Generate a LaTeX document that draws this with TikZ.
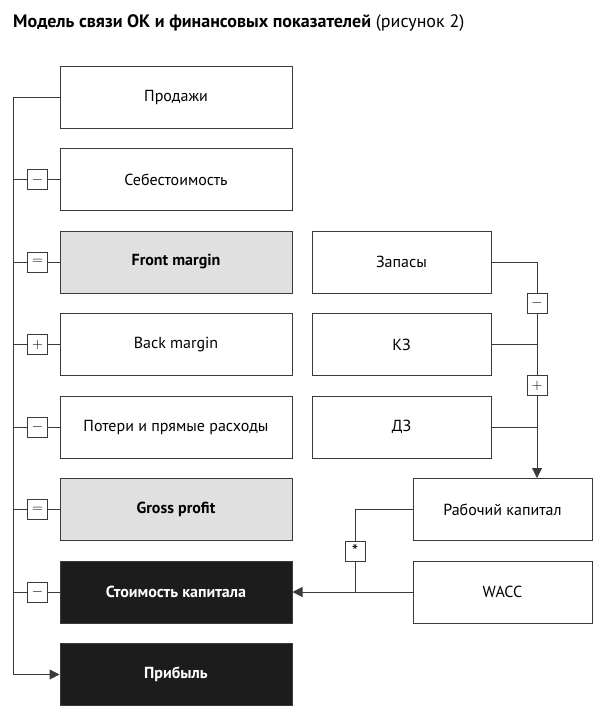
\documentclass[tikz,border=0pt]{standalone}
\usepackage{fontspec}
\setmainfont{PT Sans}
\usetikzlibrary{arrows.meta}
\definecolor{linegray}{HTML}{3A3A3A}
\definecolor{boxgray}{HTML}{E0E0E0}
\definecolor{boxblack}{HTML}{1C1C1C}
\tikzset{
  item/.style={draw=linegray, line width=1pt, minimum width=232pt, minimum height=62pt,
    inner sep=0pt, font=\fontsize{16}{18}\selectfont},
  itemgray/.style={item, fill=boxgray, font=\fontsize{16}{18}\selectfont\bfseries},
  itemblack/.style={item, fill=boxblack, text=white, font=\fontsize{16}{18}\selectfont\bfseries},
  small/.style={item, minimum width=179pt},
  sign/.style={draw=linegray, line width=1pt, fill=white, minimum width=20pt, minimum height=20pt,
    inner sep=0pt, font=\fontsize{15}{15}\selectfont},
  link/.style={draw=linegray, line width=1pt},
  tip/.style={-{Triangle[length=10pt,width=10pt]}}
}
\begin{document}
\begin{tikzpicture}[x=1pt,y=-1pt]
   \useasboundingbox (0,0) rectangle (600,721);
   \node[anchor=base west, inner sep=0pt, font=\fontsize{18}{20}\selectfont] (title) at (13,27)
      {\textbf{Модель связи ОК и финансовых показателей} (рисунок 2)};
   % left column
   \node[item] (sales) at (176,97) {Продажи};
   \node[item] (cost) at (176,179.5) {Себестоимость};
   \node[itemgray] (front) at (176,262) {Front margin};
   \node[item] (back) at (176,344.5) {Back margin};
   \node[item] (loss) at (176,427) {Потери и прямые расходы};
   \node[itemgray] (gross) at (176,509.5) {Gross profit};
   \node[itemblack] (capcost) at (176,592) {Стоимость капитала};
   \node[itemblack] (profit) at (176,674.5) {Прибыль};
   % right column
   \node[small] (stock) at (401.5,262) {Запасы};
   \node[small] (payable) at (401.5,344.5) {КЗ};
   \node[small] (receivable) at (401.5,427) {ДЗ};
   \node[small] (wc) at (502.5,509.5) {Рабочий капитал};
   \node[small] (wacc) at (502.5,592) {WACC};
   % left trunk
   \coordinate (top) at (13,97);
   \draw[link,tip] (sales.west) -- (top) |- (profit.west);
   \foreach \row/\sgn in {cost/-,front/=,back/+,loss/-,gross/=,capcost/-} {
      \draw[link] (top |- \row.west) -- (\row.west);
      \node[sign] (s-\row) at ([xshift=24.5pt]top |- \row.west) {$\sgn$};
   }
   % right trunk
   \coordinate (rtop) at (537,262);
   \draw[link,tip] (stock.east) -- (rtop) -- (rtop |- wc.north);
   \draw[link] (payable.east) -- (rtop |- payable.east);
   \draw[link] (receivable.east) -- (rtop |- receivable.east);
   \node[sign] (s-minus) at (537,303) {$-$};
   \node[sign] (s-plus) at (537,385.5) {$+$};
   % capital cost
   \coordinate (join) at (355,592);
   \draw[link,tip] (wacc.west) -- (capcost.east);
   \draw[link] (wc.west) -| (join);
   \node[sign, font=\fontsize{18}{18}\selectfont] (s-star) at (355,551) {\raisebox{-3pt}{*}};
\end{tikzpicture}
\end{document}
